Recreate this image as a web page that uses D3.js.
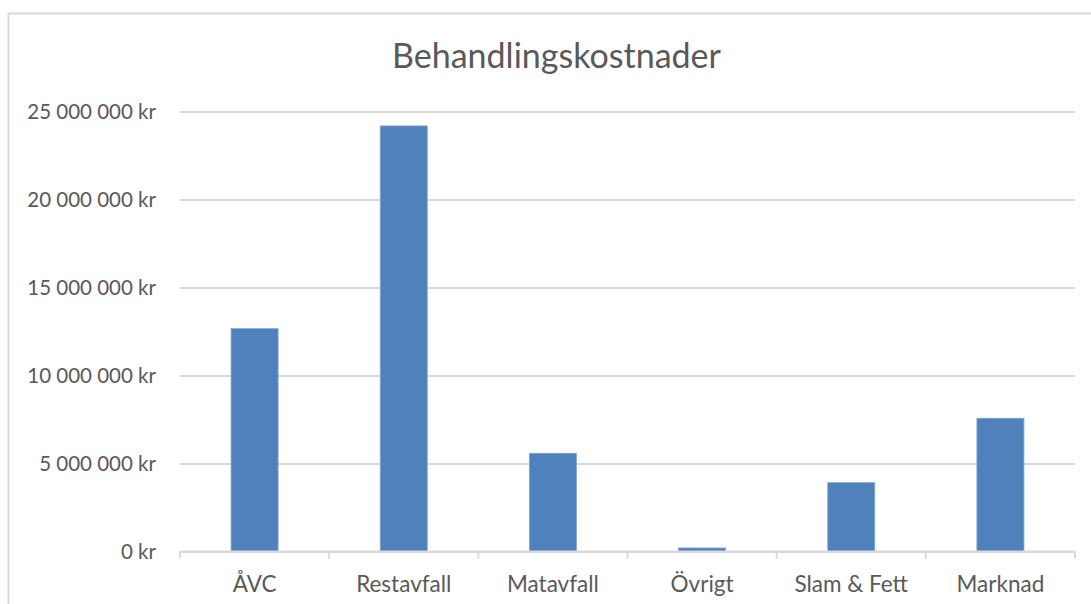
<!DOCTYPE html>
<html>
<head>
<meta charset="utf-8">
<script src="https://cdn.jsdelivr.net/npm/d3@7"></script>
<style>
  body { margin: 0; background: #fff; }
  svg text { font-family: Lato, "Open Sans", sans-serif; fill: #595959; }
</style>
</head>
<body>
<div id="chart"></div>
<script>
// data
var categories = ["ÅVC", "Restavfall", "Matavfall", "Övrigt", "Slam & Fett", "Marknad"];
var values = [12660000, 24180000, 5580000, 200000, 3910000, 7570000];
var y_ticks = [0, 5000000, 10000000, 15000000, 20000000, 25000000];
var chart_title = "Behandlingskostnader";

var width = 1091, height = 604;
var margin = { left: 180, right: 16, top: 111.5, bottom: 52.5 };

var svg = d3.select("#chart").append("svg")
            .attr("width", width)
            .attr("height", height);

// outer chart border
svg.append("rect")
   .attr("x", 8.5).attr("y", 13.5)
   .attr("width", width + 20).attr("height", height + 20)
   .attr("fill", "none")
   .attr("stroke", "#d9d9d9")
   .attr("stroke-width", 2);

var x = d3.scaleBand()
          .domain(categories)
          .range([margin.left, width - margin.right])
          .paddingInner(0.685)
          .paddingOuter(0.3425);

var y = d3.scaleLinear()
          .domain([0, 25000000])
          .range([height - margin.bottom, margin.top]);

function fmt(v) {
    return d3.format(",")(v).replace(/,/g, " ") + " kr";
}

// gridlines + y labels
var yAxis = d3.axisLeft(y)
              .tickValues(y_ticks)
              .tickSize(-(width - margin.right - margin.left))
              .tickPadding(24)
              .tickFormat(fmt);

var gy = svg.append("g")
            .attr("transform", "translate(" + margin.left + ",0)")
            .call(yAxis);
gy.select(".domain").remove();
gy.selectAll(".tick line").attr("stroke", "#d9d9d9").attr("stroke-width", 2);
gy.selectAll(".tick text")
  .attr("font-size", "20.5px")
  .attr("font-family", null)
  .style("fill", "#595959");

// bars
svg.append("g").selectAll("rect")
   .data(values)
   .enter()
   .append("rect")
   .attr("x", (d, i) => x(categories[i]))
   .attr("y", d => y(d))
   .attr("width", x.bandwidth())
   .attr("height", d => y(0) - y(d))
   .attr("fill", "#4f81bd")
   .attr("stroke", "#7ea3d2")
   .attr("stroke-width", 0.8);

// category axis
var plot_w = width - margin.right - margin.left;
var gx = svg.append("g")
            .attr("transform", "translate(0," + y(0) + ")");
gx.append("line")
  .attr("x1", margin.left).attr("x2", width - margin.right)
  .attr("stroke", "#d9d9d9").attr("stroke-width", 2);
gx.selectAll("line.tick")
  .data(d3.range(categories.length + 1))
  .enter()
  .append("line")
  .attr("class", "tick")
  .attr("x1", i => margin.left + i * plot_w / categories.length)
  .attr("x2", i => margin.left + i * plot_w / categories.length)
  .attr("y1", 0).attr("y2", 7)
  .attr("stroke", "#d9d9d9").attr("stroke-width", 2);
gx.selectAll("text")
  .data(categories)
  .enter()
  .append("text")
  .attr("x", d => x(d) + x.bandwidth() / 2)
  .attr("y", 40)
  .attr("text-anchor", "middle")
  .attr("font-size", "22.5px")
  .text(d => d);

// title
svg.append("text")
   .attr("x", 556.5)
   .attr("y", 67.5)
   .attr("text-anchor", "middle")
   .attr("font-size", "34px")
   .text(chart_title);
</script>
</body>
</html>
